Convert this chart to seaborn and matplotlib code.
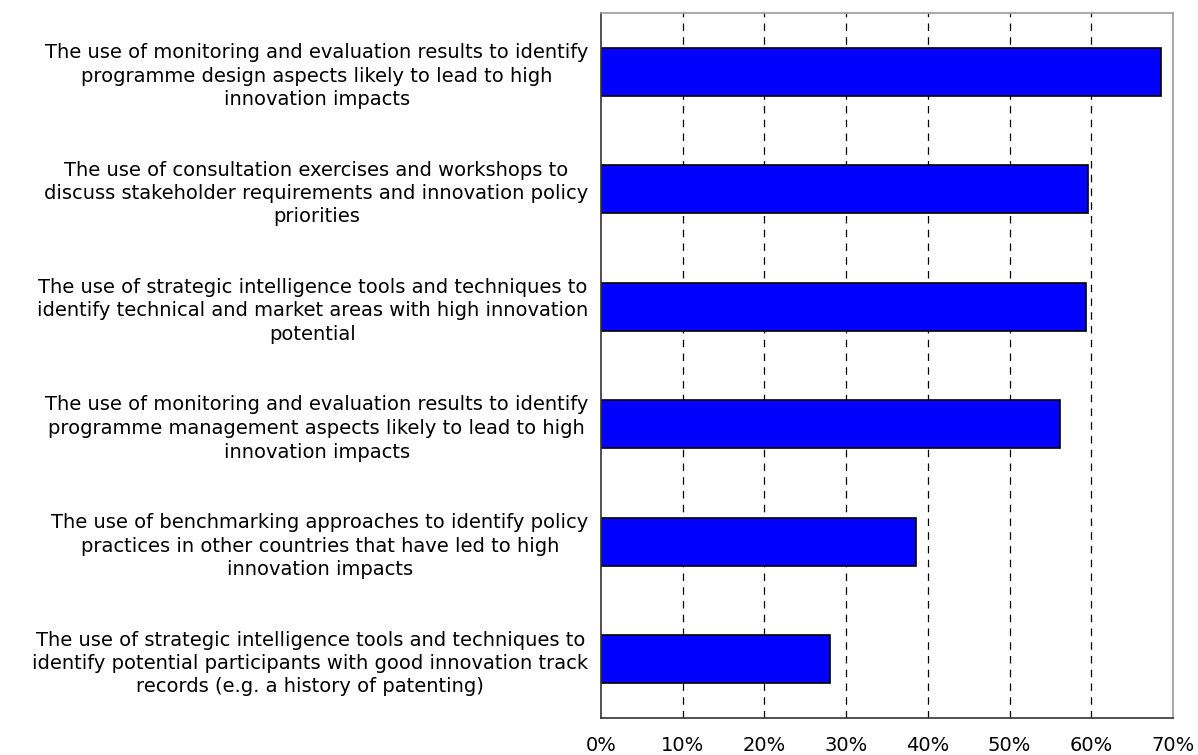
import numpy as np
import pandas as pd
import matplotlib
matplotlib.use("Agg")
import matplotlib.pyplot as plt
import seaborn as sns

# Data
labels = [
    "The use of monitoring and evaluation results to identify\nprogramme design aspects likely to lead to high\ninnovation impacts",
    "The use of consultation exercises and workshops to\ndiscuss stakeholder requirements and innovation policy\npriorities",
    "The use of strategic intelligence tools and techniques to\nidentify technical and market areas with high innovation\npotential",
    "The use of monitoring and evaluation results to identify\nprogramme management aspects likely to lead to high\ninnovation impacts",
    "The use of benchmarking approaches to identify policy\npractices in other countries that have led to high\ninnovation impacts",
    "The use of strategic intelligence tools and techniques to\nidentify potential participants with good innovation track\nrecords (e.g. a history of patenting)",
]
values = [68.5, 59.6, 59.4, 56.2, 38.6, 28.0]
xticks = [0, 10, 20, 30, 40, 50, 60, 70]

df = pd.DataFrame({"label": labels, "value": values})

sns.set_style("white")
plt.rcParams['font.family'] = ['DejaVu Sans']
plt.rcParams['text.color'] = 'black'
plt.rcParams['xtick.color'] = 'black'
plt.rcParams['ytick.color'] = 'black'

fig = plt.figure(figsize=(11.98, 7.55), dpi=100)
ax = fig.add_axes([601/1198, 1 - 718/755, (1173-601)/1198, (718-13)/755])

sns.barplot(data=df, x="value", y="label", orient="h", color="#0000FF",
            edgecolor="black", linewidth=1.2, width=0.41, saturation=1, ax=ax)

ax.set_xlim(0, 70)
ax.set_ylim(5.5, -0.5)
ax.set_xticks(xticks)
ax.set_xticklabels([f"{t}%" for t in xticks], fontsize=14)
ax.tick_params(axis="x", length=0, pad=13)
ax.tick_params(axis="y", length=0, pad=9)
for t in ax.get_yticklabels():
    t.set_fontsize(14)
    t.set_multialignment("center")
    t.set_linespacing(1.3)

for x in xticks[1:-1]:
    ax.axvline(x, color="black", linestyle=(0, (6, 5)), linewidth=0.9, zorder=0)

ax.set_xlabel("")
ax.set_ylabel("")
for side in ["top", "right"]:
    ax.spines[side].set_color("#999999")
    ax.spines[side].set_linewidth(1.2)
for side in ["left", "bottom"]:
    ax.spines[side].set_color("#333333")
    ax.spines[side].set_linewidth(1.2)

fig.savefig("out.png", dpi=100)
